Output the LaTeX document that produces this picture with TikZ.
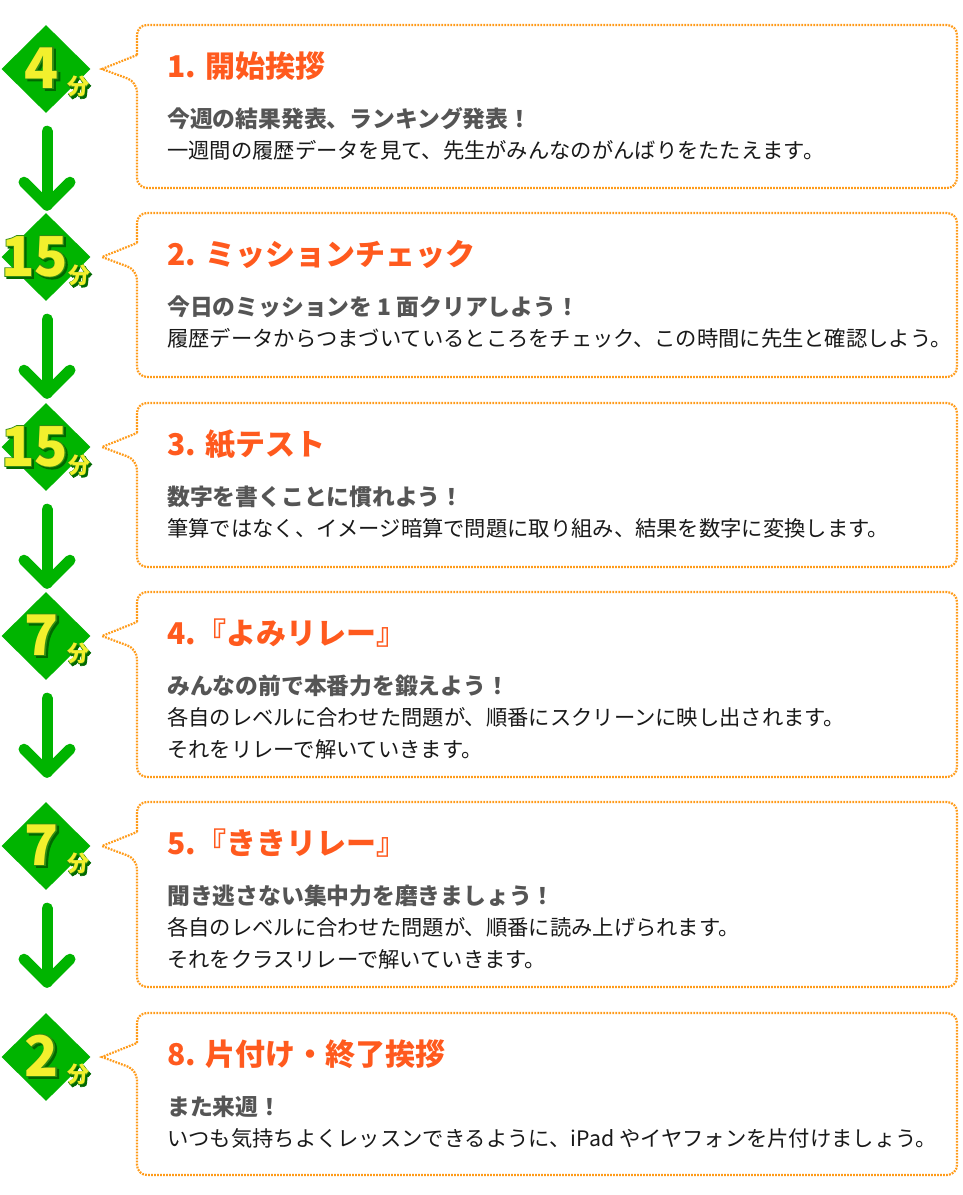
\documentclass[tikz,border=0pt]{standalone}
\usepackage{fontspec}
\setmainfont{Noto Sans CJK JP}
\newfontfamily\olfont{Noto Sans CJK JP}[BoldFeatures={FakeBold=3}]
\usetikzlibrary{calc,shapes.geometric}
\definecolor{grn}{RGB}{0,180,0}
\definecolor{org}{RGB}{255,155,25}
\definecolor{ttl}{RGB}{255,90,30}
\definecolor{subc}{RGB}{85,85,85}
\definecolor{bdy}{RGB}{25,25,25}
\definecolor{yel}{RGB}{242,240,45}
\definecolor{olc}{RGB}{50,140,20}
\definecolor{shd}{RGB}{0,105,0}
\newcommand\badgetext[5]{%
  \node[font=\fontsize{#3}{#3}\olfont\bfseries, text=shd, anchor=#5, inner sep=0] at (#1+2,#2+2) {#4};
  \node[font=\fontsize{#3}{#3}\olfont\bfseries, text=olc, anchor=#5, inner sep=0] at (#1,#2) {#4};
  \node[font=\fontsize{#3}{#3}\selectfont\bfseries, text=yel, anchor=#5, inner sep=0] at (#1,#2) {#4};
}
\newcommand\calloutbox[2]{%
  \draw[callout] (137,#1+30) [rounded corners=10] -- (137,#1) -- (957,#1) -- (957,#2) -- (137,#2) -- (137,#1+57) [sharp corners] -- (102,#1+44) -- cycle;
}
\begin{document}
\begin{tikzpicture}[x=1pt,y=-1pt,
  badge/.style={diamond, fill=grn, inner sep=0, minimum width=89, minimum height=88},
  callout/.style={draw=org, line width=2.2, dash pattern=on 1.8pt off 1.2pt, fill=white},
  arr/.style={draw=grn, line width=11, line cap=round, line join=round},
  ttlt/.style={anchor=base west, inner sep=0, text=ttl, font=\fontsize{30}{30}\selectfont\bfseries},
  subt/.style={anchor=base west, inner sep=0, text=subc, font=\fontsize{22.8}{22.8}\selectfont\bfseries},
  bdyt/.style={anchor=base west, inner sep=0, text=bdy, font=\fontsize{21.3}{21.3}\selectfont}]
\useasboundingbox (0,0) rectangle (962,1195);
\fill[white] (0,0) rectangle (962,1195);

% boxes
\calloutbox{25}{188}
\calloutbox{213}{377}
\calloutbox{403}{567}
\calloutbox{592}{777}
\calloutbox{802}{987}
\calloutbox{1013}{1175}

% diamonds
\node[badge] (d1) at (46,69) {};
\node[badge] (d2) at (46,257) {};
\node[badge] (d3) at (46,447) {};
\node[badge] (d4) at (46,636) {};
\node[badge] (d5) at (46,846) {};
\node[badge] (d6) at (46,1057) {};

% arrows
\foreach \a in {d1,d2,d3,d4,d5}{
  \draw[arr] ($(\a.south)+(1,18)$) coordinate (\a s) -- ($(\a.south)+(1,92)$) coordinate (\a t);
  \draw[arr] ($(\a t)+(-23,-23)$) -- (\a t) -- ($(\a t)+(23,-23)$);
}

% badge texts
\badgetext{42}{88}{56}{4}{base}
\badgetext{78}{86.5}{22}{分}{center}
\badgetext{34.5}{276}{55}{15}{base}
\badgetext{79}{275}{22}{分}{center}
\badgetext{34.5}{466}{55}{15}{base}
\badgetext{79}{465}{22}{分}{center}
\badgetext{42}{655}{56}{7}{base}
\badgetext{78}{653.5}{22}{分}{center}
\badgetext{42}{865}{56}{7}{base}
\badgetext{78}{863.5}{22}{分}{center}
\badgetext{42}{1076}{56}{2}{base}
\badgetext{78}{1074.5}{22}{分}{center}

% texts box 1
\node[ttlt] (t1) at (167,77) {1. 開始挨拶};
\node[subt] (s1) at (167,127) {今週の結果発表、ランキング発表！};
\node[bdyt] (b1a) at (167,158) {一週間の履歴データを見て、先生がみんなのがんばりをたたえます。};
% box 2
\node[ttlt] (t2) at (167,265) {2. ミッションチェック};
\node[subt] (s2) at (167,315) {今日のミッションを 1 面クリアしよう！};
\node[bdyt] (b2a) at (167,346) {履歴データからつまづいているところをチェック、この時間に先生と確認しよう。};
% box 3
\node[ttlt] (t3) at (167,455) {3. 紙テスト};
\node[subt] (s3) at (167,505) {数字を書くことに慣れよう！};
\node[bdyt] (b3a) at (167,536) {筆算ではなく、イメージ暗算で問題に取り組み、結果を数字に変換します。};
% box 4
\node[ttlt] (t4) at (167,644) {4.『よみリレー』};
\node[subt] (s4) at (167,694) {みんなの前で本番力を鍛えよう！};
\node[bdyt] (b4a) at (167,725) {各自のレベルに合わせた問題が、順番にスクリーンに映し出されます。};
\node[bdyt] (b4b) at (167,757) {それをリレーで解いていきます。};
% box 5
\node[ttlt] (t5) at (167,854) {5.『ききリレー』};
\node[subt] (s5) at (167,904) {聞き逃さない集中力を磨きましょう！};
\node[bdyt] (b5a) at (167,935) {各自のレベルに合わせた問題が、順番に読み上げられます。};
\node[bdyt] (b5b) at (167,967) {それをクラスリレーで解いていきます。};
% box 6
\node[ttlt] (t6) at (167,1065) {8. 片付け・終了挨拶};
\node[subt] (s6) at (167,1115) {また来週！};
\node[bdyt] (b6a) at (167,1146) {いつも気持ちよくレッスンできるように、iPad やイヤフォンを片付けましょう。};
\end{tikzpicture}
\end{document}
